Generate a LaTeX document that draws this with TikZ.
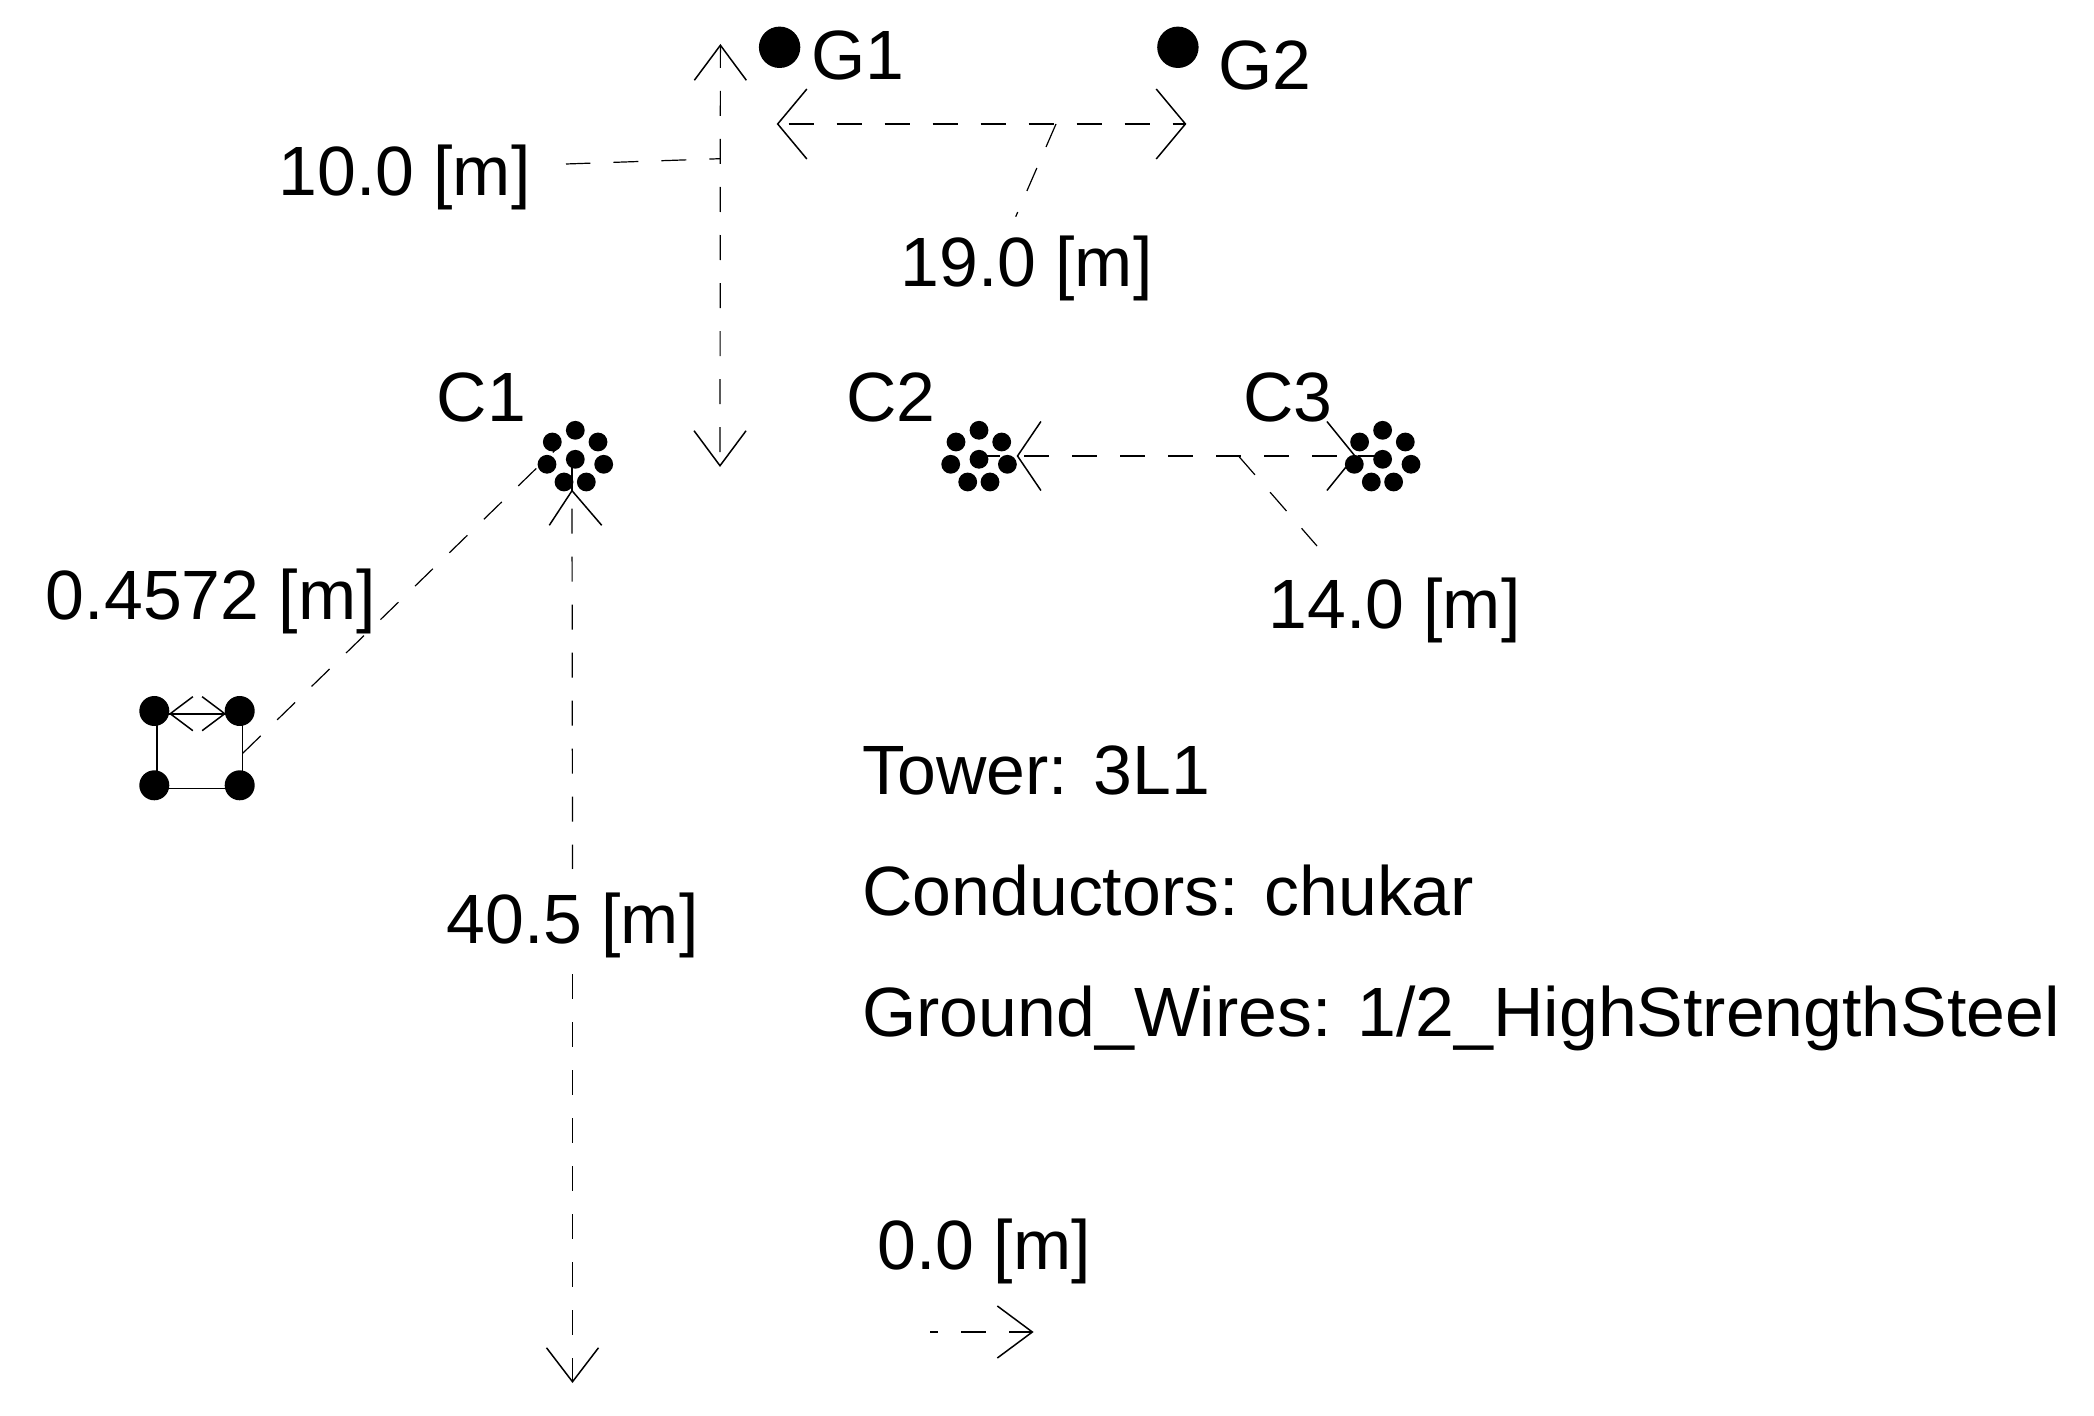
\documentclass[tikz,border=0pt]{standalone}
\usepackage{fontspec}
\setmainfont{Liberation Sans}
\usetikzlibrary{arrows.meta}
\tikzstyle{lbl}=[anchor=base west,inner sep=0pt,font=\fontsize{34.9}{36}\selectfont]
\tikzstyle{bigdot}=[circle,fill=black,minimum size=20.7pt,inner sep=0pt]
\tikzstyle{strand}=[circle,fill=black,minimum size=9.4pt,inner sep=0pt]
\tikzstyle{smalldot}=[circle,fill=black,minimum size=15pt,inner sep=0pt]
\tikzstyle{dimline}=[draw,line width=0.6pt,dash pattern=on 12.5pt off 11.5pt]
\tikzstyle{vtip}=[{Straight Barb[length=17.5pt,width=26pt,line width=0.75pt]}-{Straight Barb[length=17.5pt,width=26pt,line width=0.75pt]}]
\tikzstyle{wire}=[draw,line width=0.6pt]
\begin{document}
\begin{tikzpicture}[x=0.5pt,y=-0.5pt]
    \useasboundingbox (0,0) rectangle (2094,1416);

    % Ground wires and the small bundle
    \foreach \pos/\name in {{(779.6,47.3)/G1dot}, {(1177.9,47.3)/G2dot}}
        \node[bigdot] (\name) at \pos {};
    \foreach \pos/\name in {{(154.3,711)/B1}, {(239.7,711)/B2}, {(154.3,785.3)/B3}, {(239.7,785.3)/B4}}
        \node[smalldot] (\name) at \pos {};

    % Then the three phase bundles
    \foreach \cx/\name in {575.3/C1, 979/C2, 1382.6/C3} {
        \foreach \dx/\dy/\k in {0/-28.7/1, -23/-17/2, 22.7/-17/3, 0/0.3/4, -28.3/5.3/5, 28.4/5.3/6, -11.3/23/7, 11/23/8}
            \node[strand] (\name-\k) at (\cx+\dx,459+\dy) {};
    }

    % Labels
    \foreach \pos/\name/\label in {{(811,79.3)/G1/G1}, {(1218,90)/G2/G2}, {(278,196)/lab10/10.0 [m]}, {(900,287)/lab19/19.0 [m]},
        {(436.5,421.7)/C1t/C1}, {(846,421.7)/C2t/C2}, {(1243,421.7)/C3t/C3}, {(1268,628.3)/lab14/14.0 [m]},
        {(45.6,620)/lab04/0.4572 [m]}, {(446,943)/lab40/40.5 [m]}, {(862,794.5)/tower/Tower: 3L1},
        {(862,915.4)/cond/Conductors: chukar}, {(862,1036.5)/ground/{Ground\_Wires: 1/2\_HighStrengthSteel}},
        {(877,1269.4)/lab00/0.0 [m]}}
        \node[lbl] (\name) at \pos {\label};

    % Named ends of the dimension lines
    \foreach \pos/\name in {{(720.4,44)/vtop}, {(720,467)/vbot}, {(776.7,124)/hleft}, {(1186.4,124)/hright},
        {(1056,124)/h19}, {(1015.7,216.7)/e19}, {(720.3,158.7)/v10}, {(566,164)/e10},
        {(572,460)/c1up}, {(572,490.7)/c1tip}, {(549.3,525.3)/c1a}, {(601.7,525.3)/c1b},
        {(572.5,869)/lab40up}, {(572.5,974)/lab40dn}, {(572.5,1383)/gnd},
        {(1016.6,456)/c2tip}, {(1355.9,456)/c3tip}, {(979,456)/c2mid}, {(1382.6,456)/c3mid},
        {(1238.5,456)/h14}, {(1317,546)/e14}, {(242.7,753.3)/sq}, {(556,449.3)/c1in},
        {(169,713.7)/sqa}, {(226,713.7)/sqb}, {(930,1332)/ref0}, {(1033.6,1332)/ref1},
        {(157,713.7)/s1}, {(242.7,713.7)/s2}, {(157,788.3)/s3}, {(242.7,788.3)/s4}}
        \path \pos coordinate (\name);

    % Connect the small bundle
    \draw[wire] (s3) -- (s4) -- (s2);
    \draw[line width=0.85pt] (s3) -- (s1) -- (s2);
    \draw[line width=0.85pt,{Straight Barb[length=11.3pt,width=17pt,line width=0.75pt]}-{Straight Barb[length=11.3pt,width=17pt,line width=0.75pt]}] (sqa) -- (sqb);

    % Dimension lines
    \draw[dimline,dash phase=1.5pt,vtip] (vtop) -- (vbot);
    \draw[dimline,dash phase=18.85pt,{Straight Barb[length=14.6pt,width=35pt,line width=0.75pt]}-{Straight Barb[length=14.6pt,width=35pt,line width=0.75pt]}] (hleft) -- (hright);
    \draw[dimline] (h19) -- (e19);
    \draw[dimline,dash phase=7pt] (v10) -- (e10);
    \draw[wire] (c1up) -- (c1tip);
    \draw[line width=0.75pt] (c1a) -- (c1tip) -- (c1b);
    \draw[dimline,dash phase=15pt] (c1tip) -- (lab40up);
    \draw[dimline,-{Straight Barb[length=17pt,width=26pt,line width=0.75pt]}] (lab40dn) -- (gnd);
    \draw[dimline,line width=0.9pt,dash phase=2pt] (c2mid) -- (c2tip);
    \draw[dimline,line width=0.9pt,dash phase=20.9pt,{Straight Barb[length=11.7pt,width=34.5pt,line width=0.75pt]}-{Straight Barb[length=14pt,width=34.5pt,line width=0.75pt]}] (c2tip) -- (c3tip);
    \draw[dimline,line width=0.9pt,dash phase=23pt] (c3tip) -- (c3mid);
    \draw[dimline] (h14) -- (e14);
    \draw[dimline] (sq) -- (c1in);
    \draw[dimline,dash phase=8.5pt,-{Straight Barb[length=17.5pt,width=26pt,line width=0.75pt]}] (ref0) -- (ref1);
\end{tikzpicture}
\end{document}
